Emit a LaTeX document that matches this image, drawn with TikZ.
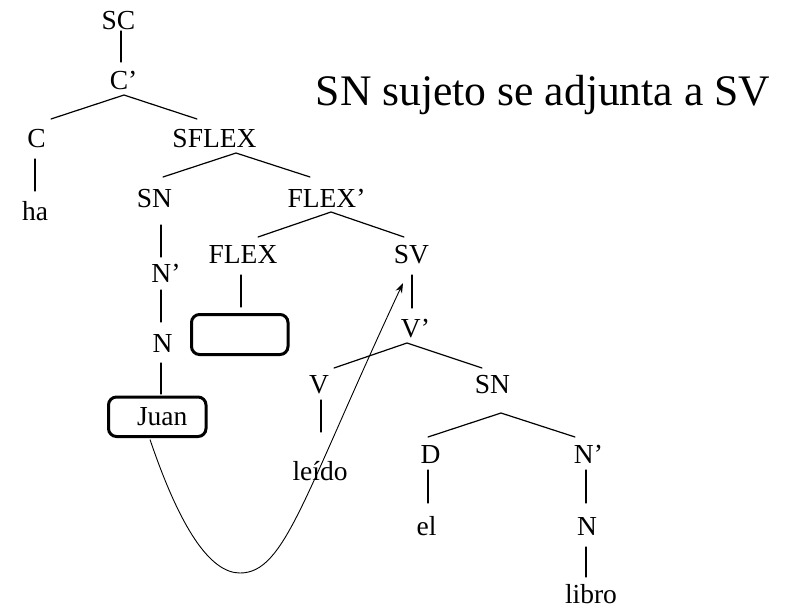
\documentclass[tikz,border=0pt]{standalone}
\usepackage{fontspec}
\setmainfont{Liberation Serif}
\usetikzlibrary{calc,arrows.meta}
\begin{document}
\begin{tikzpicture}[x=1pt,y=-1pt,
  lbl/.style={inner sep=0pt, anchor=base, font=\fontsize{27.5}{30}\selectfont},
  edge/.style={line width=1.2pt, line cap=round},
  slot/.style={draw, line width=3pt, rounded corners=8pt, inner sep=0pt,
    minimum width=97.5pt, minimum height=39.5pt, font=\fontsize{27.5}{30}\selectfont},
  move/.style={line width=0.9pt, -{Stealth[length=10pt,width=7pt]}}]
\useasboundingbox (0,0) rectangle (795,611);
% title
\node[inner sep=0pt, anchor=base, font=\fontsize{43.6}{48}\selectfont] (title) at (543,105) {SN sujeto se adjunta a SV};
% tree labels
\node[lbl] (sc) at (118.5,29) {SC};
\node[lbl] (cp) at (123.5,89) {C’};
\node[lbl] (c) at (36.5,147) {C};
\node[lbl] (sflex) at (214.5,147) {SFLEX};
\node[lbl] (ha) at (35,220) {ha};
\node[lbl] (sn) at (154.5,207) {SN};
\node[lbl] (flexp) at (326.5,207) {FLEX’};
\node[lbl] (np) at (166,282) {N’};
\node[lbl] (flex) at (243,263) {FLEX};
\node[lbl] (sv) at (411.5,263) {SV};
\node[lbl] (n) at (162.5,352) {N};
\node[lbl] (vp) at (415.5,337) {V’};
\node[slot] (juan) at (157.25,416.75) {\kern10pt Juan};
\node[slot, minimum width=96.5pt, minimum height=40pt] (empty) at (239.75,334.5) {};
\node[lbl] (v) at (319,393) {V};
\node[lbl] (sn2) at (492.5,393) {SN};
\node[lbl] (leido) at (320,480) {leído};
\node[lbl] (d) at (430.5,463) {D};
\node[lbl] (np2) at (588.5,463) {N’};
\node[lbl] (el) at (426.5,535) {el};
\node[lbl] (n2) at (587,535) {N};
\node[lbl] (libro) at (591,603) {libro};
% edges
\draw[edge] ($(sc.base)+(2.5,2)$) -- ($(cp.base)+(-2.5,-27)$);
\draw[edge] ($(c.base)+(14.5,-28)$) -- ($(cp.base)+(0.5,6)$) -- ($(sflex.base)+(-17.5,-28)$);
\draw[edge] ($(c.base)+(-1.5,12)$) -- ($(ha.base)+(0,-29)$);
\draw[edge] ($(sn.base)+(8.5,-30)$) -- ($(sflex.base)+(21.5,6)$) -- ($(flexp.base)+(-16.5,-30)$);
\draw[edge] ($(sn.base)+(6.5,18)$) -- ($(np.base)+(-5,-25)$);
\draw[edge] ($(np.base)+(-5,8)$) -- ($(n.base)+(-1.5,-30)$);
\draw[edge] ($(n.base)+(-1.5,11)$) -- ($(juan.north)+(3.75,-1.5)$);
\draw[edge] ($(flex.base)+(15,-26)$) -- ($(flexp.base)+(4.5,5)$) -- ($(sv.base)+(-7.5,-26)$);
\draw[edge] ($(flex.base)+(-2,12)$) -- ($(empty.north)+(1.25,-6)$);
\draw[edge] ($(sv.base)+(0.5,12)$) -- ($(vp.base)+(-3.5,-29)$);
\draw[edge] ($(v.base)+(15,-25)$) -- ($(vp.base)+(-8.5,6)$) -- ($(sn2.base)+(-10.5,-25)$);
\draw[edge] ($(v.base)+(2,7)$) -- ($(leido.base)+(1,-48)$);
\draw[edge] ($(d.base)+(-2.5,-26)$) -- ($(sn2.base)+(8.5,20)$) -- ($(np2.base)+(-13.5,-26)$);
\draw[edge] ($(d.base)+(-2.5,7)$) -- ($(el.base)+(1.5,-32)$);
\draw[edge] ($(np2.base)+(-2.5,7)$) -- ($(n2.base)+(-1,-32)$);
\draw[edge] ($(n2.base)+(-1,12)$) -- ($(libro.base)+(-5,-26)$);
% movement arrow
\coordinate (bottom) at (240,573);
\coordinate (tip) at ($(sv.base)+(-8.5,20)$);
\draw[move] ($(juan.south)+(-7.25,1.5)$) .. controls (180,528) and (210,573) .. (bottom)
  .. controls (285,573) and (303,497) .. (tip);
\end{tikzpicture}
\end{document}
